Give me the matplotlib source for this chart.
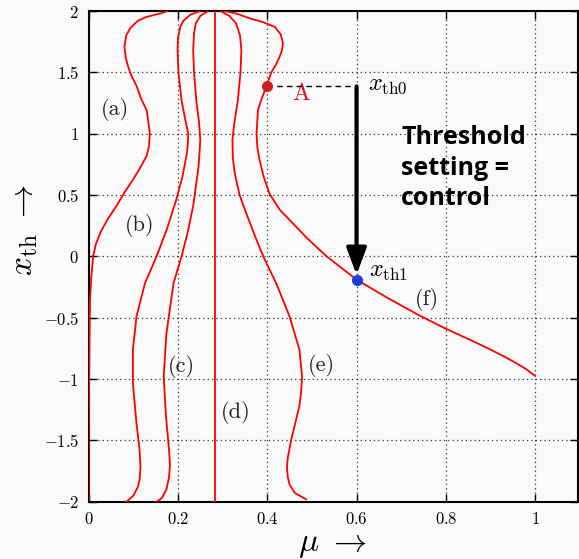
import matplotlib
matplotlib.use('Agg')
import matplotlib.pyplot as plt

plt.rcParams['mathtext.fontset'] = 'cm'
plt.rcParams['font.family'] = 'serif'
plt.rcParams['font.serif'] = ['cmr10', 'DejaVu Serif']
plt.rcParams['axes.unicode_minus'] = False

# curves: mu values (x) and x_th values (y)
mu_a = [0.177, 0.160, 0.128, 0.110, 0.093, 0.084, 0.080, 0.083, 0.088, 0.096, 0.107, 0.118,
        0.130, 0.137, 0.135, 0.130, 0.115, 0.100, 0.080, 0.062, 0.042, 0.027, 0.016, 0.010,
        0.006, 0.003, 0.002, 0.001, 0.0, 0.0]
xth_a = [2.0, 1.98, 1.95, 1.92, 1.86, 1.80, 1.71, 1.62, 1.55, 1.47, 1.39, 1.28,
         1.19, 1.0, 0.9, 0.82, 0.72, 0.63, 0.52, 0.41, 0.3, 0.2, 0.1, 0.0,
         -0.16, -0.35, -0.6, -1.0, -1.5, -2.0]

mu_b = [0.249, 0.228, 0.212, 0.205, 0.200, 0.199, 0.201, 0.208, 0.216, 0.223, 0.222, 0.220,
        0.210, 0.196, 0.175, 0.152, 0.126, 0.107, 0.099, 0.099, 0.103, 0.107, 0.114, 0.116,
        0.114, 0.110, 0.100, 0.085]
xth_b = [2.0, 1.97, 1.92, 1.87, 1.78, 1.68, 1.5, 1.27, 1.12, 1.0, 0.92, 0.84,
         0.65, 0.46, 0.22, 0.0, -0.22, -0.49, -0.76, -1.03, -1.2, -1.36, -1.58, -1.72,
         -1.82, -1.88, -1.95, -2.0]

mu_c = [0.267, 0.250, 0.240, 0.236, 0.234, 0.236, 0.241, 0.247, 0.250, 0.246, 0.234, 0.222,
        0.208, 0.190, 0.174, 0.168, 0.173, 0.180, 0.182, 0.180, 0.174, 0.164, 0.152]
xth_c = [2.0, 1.96, 1.9, 1.82, 1.68, 1.5, 1.27, 1.1, 0.95, 0.73, 0.41, 0.2,
         0.0, -0.22, -0.63, -0.98, -1.3, -1.58, -1.7, -1.8, -1.9, -1.97, -2.0]

mu_d = [0.282, 0.282]
xth_d = [2.0, -2.0]

mu_e = [0.295, 0.315, 0.330, 0.339, 0.342, 0.340, 0.334, 0.326, 0.322, 0.323, 0.327, 0.338,
        0.353, 0.372, 0.391, 0.420, 0.450, 0.472, 0.478, 0.476, 0.472, 0.454, 0.446, 0.444,
        0.446, 0.450, 0.462, 0.487]
xth_e = [2.0, 1.96, 1.9, 1.8, 1.68, 1.5, 1.27, 1.08, 0.95, 0.8, 0.68, 0.5,
         0.35, 0.17, 0.0, -0.22, -0.49, -0.76, -0.98, -1.1, -1.22, -1.49, -1.64, -1.72,
         -1.8, -1.86, -1.93, -1.98]

mu_f = [0.305, 0.330, 0.361, 0.390, 0.417, 0.430, 0.435, 0.433, 0.428, 0.419, 0.409, 0.398,
        0.385, 0.379, 0.376, 0.378, 0.383, 0.392, 0.405, 0.428, 0.457, 0.490, 0.533, 0.600,
        0.670, 0.740, 0.800, 0.860, 0.900, 0.930, 0.960, 0.980, 1.000]
xth_f = [2.0, 1.98, 1.94, 1.91, 1.87, 1.81, 1.74, 1.68, 1.63, 1.56, 1.5, 1.385,
         1.26, 1.19, 1.0, 0.88, 0.78, 0.65, 0.51, 0.38, 0.27, 0.145, 0.0, -0.19,
         -0.34, -0.48, -0.59, -0.69, -0.76, -0.815, -0.875, -0.92, -0.975]

curve_labels = ['(a)', '(b)', '(c)', '(d)', '(e)', '(f)']
label_mu = [0.058, 0.113, 0.208, 0.330, 0.522, 0.757]
label_xth = [1.20, 0.25, -0.90, -1.27, -0.89, -0.35]

point_A = (0.40, 1.385)
point_th1 = (0.60, -0.19)

xticks = [0, 0.2, 0.4, 0.6, 0.8, 1]
xtick_labels = ['0', '0.2', '0.4', '0.6', '0.8', '1']
yticks = [-2, -1.5, -1, -0.5, 0, 0.5, 1, 1.5, 2]
ytick_labels = ['-2', '-1.5', '-1', '-0.5', '0', '0.5', '1', '1.5', '2']

fig = plt.figure(figsize=(5.79, 5.59), dpi=100)
fig.patch.set_facecolor('#fafafa')
ax = fig.add_axes([0.1532, 0.1025, 0.845, 0.8778])
ax.set_facecolor('#fafafa')

red = '#ff0000'
for mx, my in [(mu_a, xth_a), (mu_b, xth_b), (mu_c, xth_c), (mu_d, xth_d), (mu_e, xth_e), (mu_f, xth_f)]:
    ax.plot(mx, my, color=red, lw=1.3, zorder=3)

for t, lx, ly in zip(curve_labels, label_mu, label_xth):
    ax.text(lx, ly, t, fontsize=16, ha='center', va='center', color='#222222', zorder=4)

# threshold shift A -> x_th1
ax.plot([point_A[0], point_th1[0]], [point_A[1], point_A[1]], color='black', lw=1,
        dashes=(4, 3), zorder=4)
ax.annotate('', xy=(point_th1[0], point_th1[1] + 0.04), xytext=(point_th1[0], point_A[1]),
            arrowprops=dict(arrowstyle='-|>,head_width=0.6,head_length=1.6', lw=3,
                            color='black', shrinkA=0, shrinkB=0), zorder=5)
ax.plot(*point_A, 'o', color='#d01e1e', ms=7, zorder=6)
ax.plot(*point_th1, 'o', color='#1e3cdc', ms=7, zorder=6)
ax.text(0.476, 1.32, 'A', fontsize=17, color='#e01010', ha='center', va='center')
ax.text(0.625, 1.40, r'$x_{\rm th0}$', fontsize=17.5, ha='left', va='center')
ax.text(0.628, -0.13, r'$x_{\rm th1}$', fontsize=17.5, ha='left', va='center')
ax.text(0.70, 0.72, 'Threshold\nsetting =\ncontrol', fontsize=18, fontweight='bold',
        family='Open Sans', ha='left', va='center', linespacing=1.3)

ax.set_xlim(0, 1.096)
ax.set_ylim(-2, 2)
ax.set_xticks(xticks, labels=['$%s$' % s for s in xtick_labels])
ax.set_yticks(yticks, labels=['$%s$' % s for s in ytick_labels])
ax.tick_params(direction='in', top=True, right=True, length=6, width=1, labelsize=12,
               pad=7, colors='black')
ax.grid(True, color='black', linestyle=(0, (1, 2.5)), lw=0.9, alpha=0.8)
for s in ax.spines.values():
    s.set_linewidth(1.5)

fig.text(333 / 579, 1 - 545 / 559, r'$\mu\ \rightarrow$', fontsize=24, ha='center', va='center')
fig.text(25 / 579, 1 - 230 / 559, r'$x_{\rm th}\ \rightarrow$', fontsize=24, rotation=90,
         ha='center', va='center')

fig.savefig('out.png', dpi=100, facecolor=fig.get_facecolor())
